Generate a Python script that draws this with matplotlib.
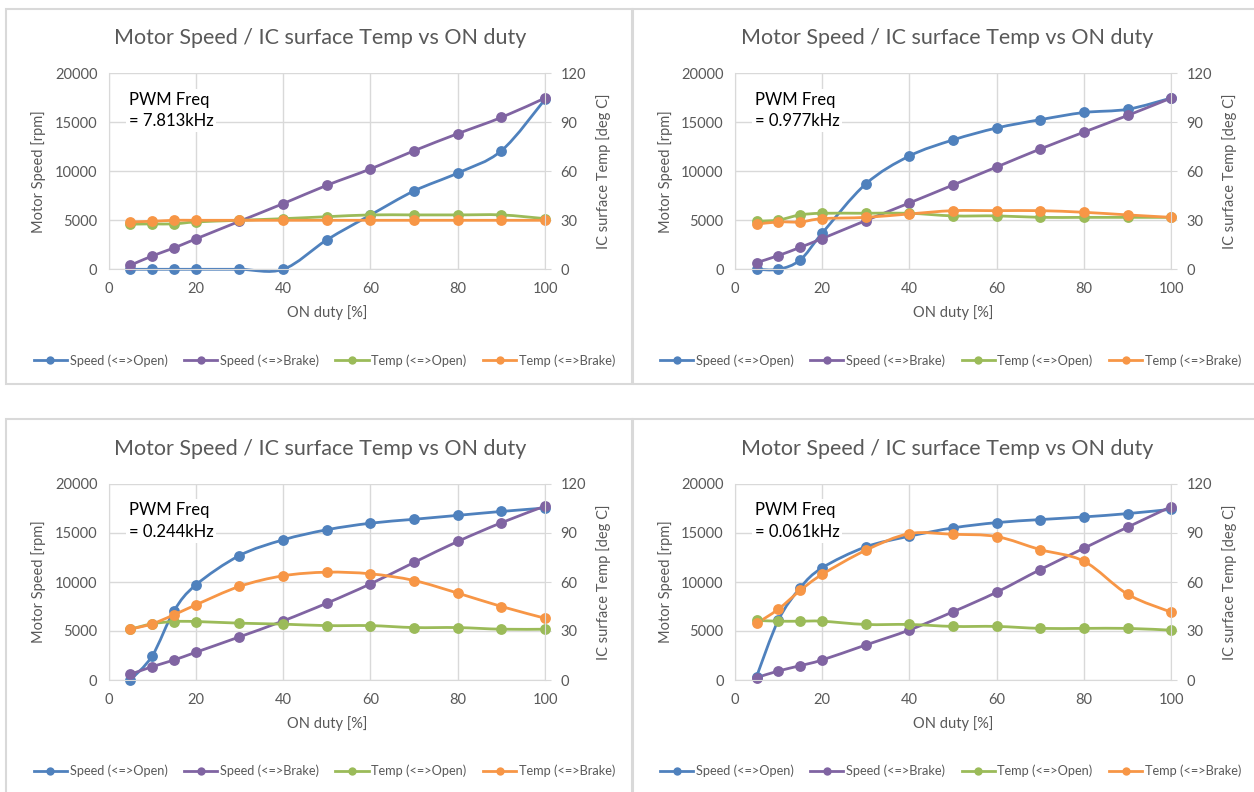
import numpy as np
import matplotlib
matplotlib.use("Agg")
import matplotlib.pyplot as plt
from matplotlib.path import Path
from matplotlib.patches import PathPatch, Rectangle
from matplotlib.lines import Line2D

plt.rcParams['font.family'] = ['Lato', 'DejaVu Sans']

duty = [5, 10, 15, 20, 30, 40, 50, 60, 70, 80, 90, 100]
freqs = ['7.813kHz', '0.977kHz', '0.244kHz', '0.061kHz']
series_names = ['Speed (<=>Open)', 'Speed (<=>Brake)', 'Temp (<=>Open)', 'Temp (<=>Brake)']

# motor speed [rpm]
speed_open = [
    [0, 0, 0, 0, 0, 0, 3000, 5540, 8000, 9830, 12100, 17350],
    [0, 0, 950, 3670, 8700, 11560, 13200, 14420, 15270, 16000, 16330, 17480],
    [0, 2450, 7050, 9700, 12700, 14300, 15330, 16000, 16400, 16800, 17200, 17550],
    [340, 6100, 9400, 11440, 13580, 14670, 15520, 16060, 16370, 16640, 16980, 17420],
]
speed_brake = [
    [410, 1360, 2180, 3100, 4900, 6700, 8570, 10240, 12100, 13840, 15500, 17480],
    [680, 1400, 2240, 3130, 4970, 6770, 8600, 10440, 12280, 14000, 15700, 17480],
    [580, 1360, 2040, 2830, 4400, 6030, 7840, 9810, 12000, 14140, 16050, 17750],
    [240, 920, 1460, 2040, 3570, 5100, 6960, 8960, 11270, 13450, 15600, 17700],
]
# IC surface temp [deg C]
temp_open = [
    [27.6, 27.8, 27.8, 29.0, 30.0, 31.0, 32.2, 33.3, 33.3, 33.3, 33.3, 31.0],
    [29.4, 30.2, 33.3, 34.3, 34.3, 34.3, 32.7, 32.7, 31.8, 31.8, 31.8, 31.8],
    [31.1, 34.4, 35.8, 35.8, 34.8, 34.2, 33.3, 33.3, 32.1, 32.1, 31.1, 31.1],
    [36.5, 36.0, 36.0, 36.0, 34.0, 34.0, 32.8, 32.8, 31.6, 31.6, 31.6, 30.5],
]
temp_brake = [
    [29.0, 29.4, 30.0, 30.0, 30.0, 30.0, 30.0, 30.0, 30.0, 30.0, 30.0, 30.0],
    [27.6, 29.0, 29.0, 31.0, 31.8, 33.9, 35.9, 35.9, 35.9, 34.9, 33.3, 31.8],
    [31.1, 34.4, 39.9, 46.0, 57.3, 63.8, 66.0, 65.0, 60.9, 53.2, 45.0, 37.8],
    [34.6, 43.4, 54.8, 64.6, 79.4, 89.6, 89.2, 87.8, 79.8, 72.7, 52.5, 41.5],
]

colors = ['#4F81BD', '#8064A2', '#9BBB59', '#F79646']
grey = '#595959'
gridc = '#D9D9D9'

W, H = 1254, 792


def smooth_path(x, y):
    # Excel-like smoothed line: Catmull-Rom segments as cubic Bezier curves
    pts = np.column_stack([x, y]).astype(float)
    n = len(pts)
    verts = [pts[0]]
    codes = [Path.MOVETO]
    for i in range(n - 1):
        p0 = pts[i - 1] if i > 0 else pts[i]
        p1 = pts[i]
        p2 = pts[i + 1]
        p3 = pts[i + 2] if i + 2 < n else pts[i + 1]
        verts += [p1 + (p2 - p0) / 6, p2 - (p3 - p1) / 6, p2]
        codes += [Path.CURVE4] * 3
    return Path(verts, codes)


def draw_series(ax, y, color):
    ax.add_patch(PathPatch(smooth_path(duty, y), facecolor='none', edgecolor=color,
                           lw=2.0, capstyle='round', joinstyle='round', clip_on=False))
    ax.plot(duty, y, 'o', color=color, markersize=7.8, markeredgewidth=0, clip_on=False)


fig = plt.figure(figsize=(W / 100, H / 100), dpi=100)

# panel frames (pixels: left, top, right, bottom)
frames = [(6, 9, 632, 384), (633, 9, 1262, 384), (6, 419, 632, 800), (633, 419, 1262, 800)]
for (l, t, r, b) in frames:
    fig.patches.append(Rectangle((l / W, 1 - b / H), (r - l) / W, (b - t) / H,
                                 transform=fig.transFigure, fill=False,
                                 edgecolor=gridc, lw=1.5))

# plot areas (pixels)
ax_x = [108.5, 734.7]
ax_y = [(73.3, 269.3), (484, 680)]
ax_w = 436.6

for k in range(4):
    col = k % 2
    row = k // 2
    x0 = ax_x[col]
    top, bot = ax_y[row]
    ax = fig.add_axes([x0 / W, 1 - bot / H, ax_w / W, (bot - top) / H])
    ax2 = ax.twinx()

    draw_series(ax, speed_open[k], colors[0])
    draw_series(ax, speed_brake[k], colors[1])
    draw_series(ax2, temp_open[k], colors[2])
    draw_series(ax2, temp_brake[k], colors[3])

    ax.set_xlim(0, 100)
    ax.set_ylim(0, 20000)
    ax2.set_ylim(0, 120)
    ax.set_xticks(range(0, 101, 20))
    ax.set_yticks(range(0, 20001, 5000))
    ax2.set_yticks(range(0, 121, 30))
    ax.grid(True, color=gridc, lw=1.0)
    ax.set_axisbelow(True)

    for a in (ax, ax2):
        for s in a.spines.values():
            s.set_visible(False)
    ax.spines['left'].set_visible(True)
    ax.spines['bottom'].set_visible(True)
    ax.spines['left'].set_color(gridc)
    ax.spines['bottom'].set_color(gridc)
    ax2.spines['right'].set_visible(True)
    ax2.spines['right'].set_color(gridc)

    ax.tick_params(axis='both', length=0, colors=grey, labelsize=10.5)
    ax.tick_params(axis='y', pad=8)
    ax.tick_params(axis='x', pad=9)
    ax2.tick_params(axis='y', length=4, color=gridc, labelcolor=grey, labelsize=10.5, pad=7)

    ax.set_xlabel('ON duty [%]', color=grey, fontsize=10.5, labelpad=7)
    ax.set_ylabel('Motor Speed [rpm]', color=grey, fontsize=10.5, labelpad=6)
    ax2.set_ylabel('IC surface Temp [deg C]', color=grey, fontsize=10.5, labelpad=7)

    ax.text(0.046, 0.81, 'PWM Freq\n= ' + freqs[k], transform=ax.transAxes,
            fontsize=12, color='black', va='center', ha='left', linespacing=1.45,
            bbox=dict(facecolor='white', edgecolor='none', pad=2), zorder=5)

    fig.text((x0 + 212) / W, 1 - (top - 35) / H,
             'Motor Speed / IC surface Temp vs ON duty', ha='center', va='center',
             fontsize=15.5, color=grey)

    handles = [Line2D([0], [0], color=c, lw=2, marker='o', markersize=6,
                      markeredgewidth=0) for c in colors]
    fig.legend(handles, series_names, loc='center', ncol=4, frameon=False,
               bbox_to_anchor=((x0 + 216) / W, 1 - (top + 287) / H),
               fontsize=9.2, labelcolor=grey, handlelength=2.6, handletextpad=0.2,
               columnspacing=1.3)

fig.savefig('out.png', dpi=100)
